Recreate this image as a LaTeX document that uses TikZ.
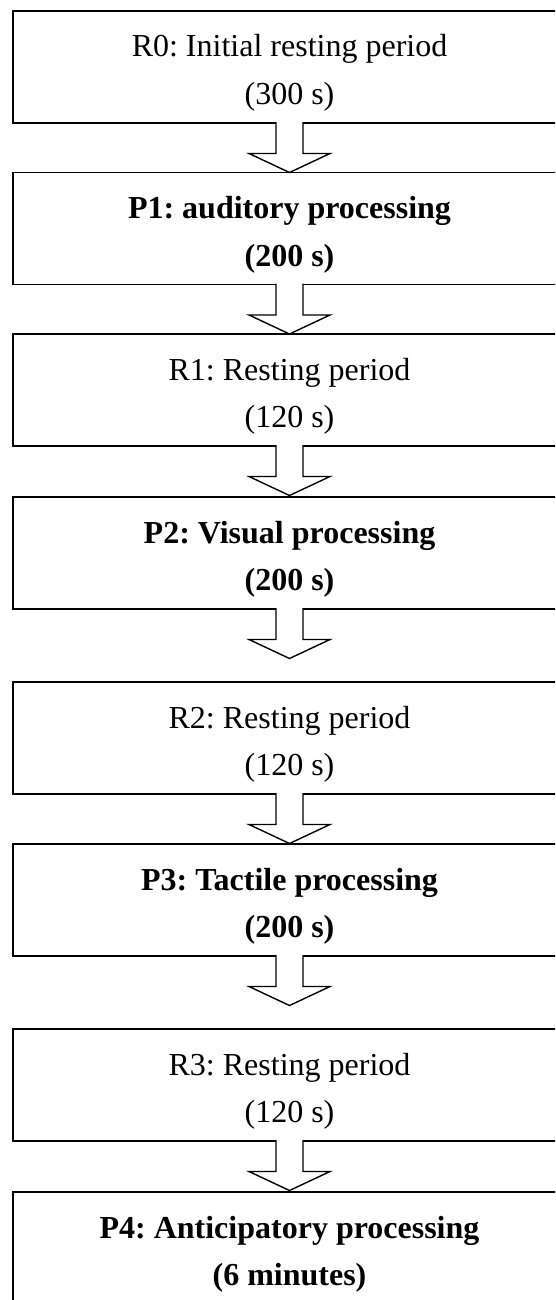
\documentclass[tikz,border=0pt]{standalone}
\usepackage{fontspec}
\setmainfont{Liberation Serif}
\frenchspacing
\tikzset{
  stagebox/.style={draw, line width=1.6pt, minimum width=553pt, minimum height=112pt, inner sep=0pt, outer sep=0pt},
  lbl/.style={anchor=base, inner sep=0pt, font=\fontsize{32}{38}\selectfont},
  blkarrow/.style={draw, fill=white, line width=1.4pt, line join=miter},
}
\begin{document}
\begin{tikzpicture}[x=1pt,y=-1pt]
\useasboundingbox (0,0) rectangle (555,1300);
\clip (0,0) rectangle (555,1300);
\fill[white] (0,0) rectangle (555,1300);

\node[stagebox] (b0) at (289.5,67) {};
\node[stagebox] (b1) at (289.5,228.5) {};
\node[stagebox] (b2) at (289.5,390) {};
\node[stagebox] (b3) at (289.5,553) {};
\node[stagebox] (b4) at (289.5,738) {};
\node[stagebox] (b5) at (289.5,900) {};
\node[stagebox] (b6) at (289.5,1085) {};
\node[stagebox] (b7) at (289.5,1248) {};

\node[lbl, yshift=-46pt] (t0a) at (b0.north) {R0: Initial resting period};
\node[lbl, yshift=-93.5pt] (t0b) at (b0.north) {(300 s)};
\node[lbl, yshift=-46pt] (t1a) at (b1.north) {\bfseries P1: auditory processing};
\node[lbl, yshift=-93.5pt] (t1b) at (b1.north) {\bfseries (200 s)};
\node[lbl, yshift=-46pt] (t2a) at (b2.north) {R1: Resting period};
\node[lbl, yshift=-93.5pt] (t2b) at (b2.north) {(120 s)};
\node[lbl, yshift=-46pt] (t3a) at (b3.north) {\bfseries P2: Visual processing};
\node[lbl, yshift=-93.5pt] (t3b) at (b3.north) {\bfseries (200 s)};
\node[lbl, yshift=-46pt] (t4a) at (b4.north) {R2: Resting period};
\node[lbl, yshift=-93.5pt] (t4b) at (b4.north) {(120 s)};
\node[lbl, yshift=-46pt] (t5a) at (b5.north) {\bfseries P3: Tactile processing};
\node[lbl, yshift=-93.5pt] (t5b) at (b5.north) {\bfseries (200 s)};
\node[lbl, yshift=-46pt] (t6a) at (b6.north) {R3: Resting period};
\node[lbl, yshift=-93.5pt] (t6b) at (b6.north) {(120 s)};
\node[lbl, yshift=-46pt] (t7a) at (b7.north) {\bfseries P4: Anticipatory processing};
\node[lbl, yshift=-93.5pt] (t7b) at (b7.north) {\bfseries (6 minutes)};

\foreach \a in {b0,b1,b2,b3,b4,b5,b6} {
  \draw[blkarrow] ([shift={(-13.5,-0.9)}]\a.south) -- ++(0,31.4) -- ++(-27,0)
     -- ++(40.5,19) -- ++(40.5,-19) -- ++(-27,0) -- ++(0,-31.4);
}
\end{tikzpicture}
\end{document}
